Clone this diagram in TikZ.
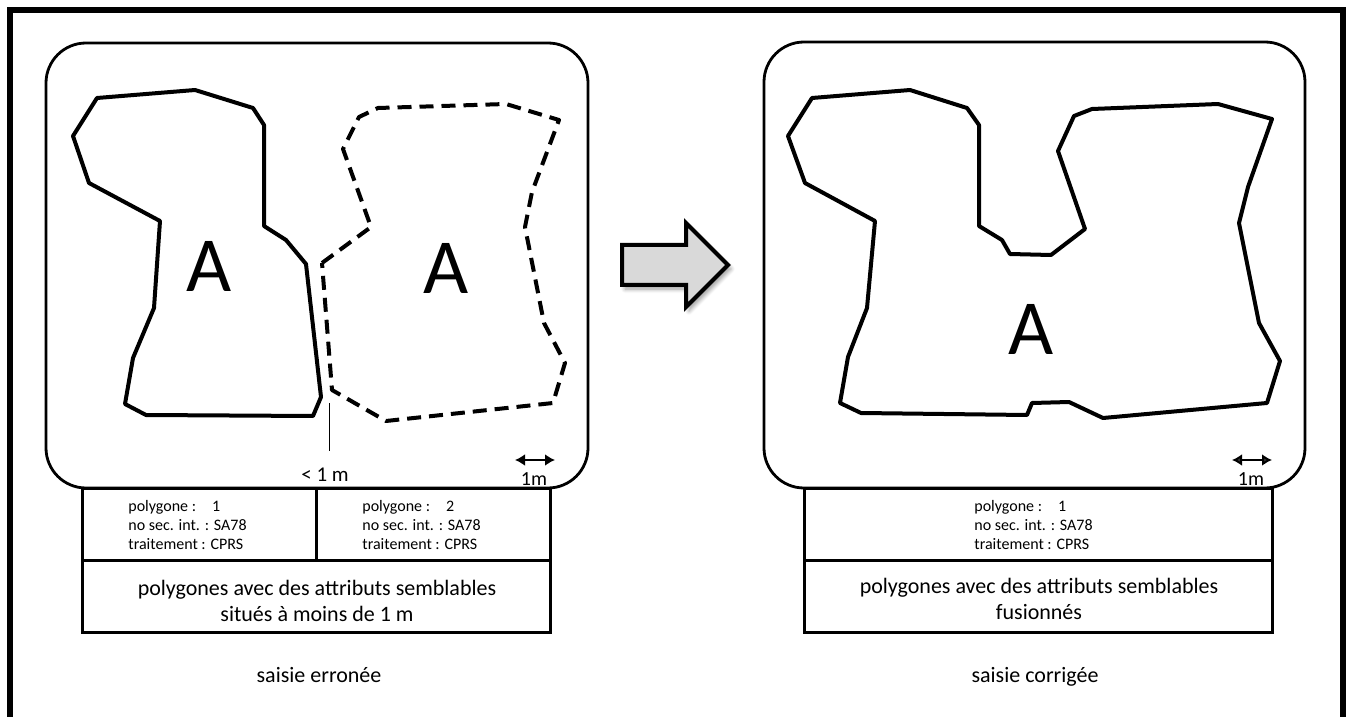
\documentclass[tikz,border=0pt]{standalone}
\usepackage{fontspec}
\setmainfont{Carlito}
\usetikzlibrary{arrows.meta,shadows.blur}

\begin{document}
\begin{tikzpicture}[x=0.5pt, y=-0.5pt,
    cadre/.style={line width=1.4pt, rounded corners=20pt},
    contour/.style={line width=2pt, line join=round},
    tableau/.style={line width=1.5pt},
    echelle/.style={line width=1.2pt, {Latex[length=5pt,width=6pt]}-{Latex[length=5pt,width=6pt]}},
    petit/.style={font=\fontsize{8}{9.5}\selectfont, align=left, anchor=north west, inner sep=0pt},
    moyen/.style={font=\fontsize{11}{13}\selectfont, align=center, inner sep=0pt},
    lettre/.style={font=\fontsize{39}{39}\selectfont, inner sep=0pt}]
  \useasboundingbox (0,0) rectangle (1346,717);
  \clip (0,0) rectangle (1346,717);
  % cadre general
  \draw[line width=3pt] (10,740) -- (10,10) -- (1343,10) -- (1343,740);

  % saisie erronee
  \draw[cadre] (46,43) rectangle (588,488);
  \draw[contour] (97,98) -- (195,90) -- (253,108) -- (264,125) -- (264,226) -- (286,240) -- (306,264)
    -- (321,397) -- (313,416) -- (146,415) -- (125,404) -- (133,358) -- (154,308) -- (160,221)
    -- (89,183) -- (73,136) -- cycle;
  \draw[contour, dash pattern=on 7pt off 4pt] (322,263) -- (371,227) -- (343,149) -- (359,117)
    -- (378,108) -- (506,104) -- (559,120) -- (532,192) -- (525,227) -- (544,323) -- (565,363)
    -- (553,403) -- (386,421) -- (332,390) -- cycle;
  \node[lettre] (lettreA1) at (209,266) {A};
  \node[lettre] (lettreA2) at (446,268) {A};
  \coordinate (ecartHaut) at (329,403);
  \coordinate (ecartBas) at (329,451);
  \draw[line width=0.5pt] (ecartHaut) -- (ecartBas);
  \node[font=\fontsize{10.5}{12}\selectfont, inner sep=0pt] (lblEcart) at (325,475) {< 1 m};
  \coordinate (echG1) at (515,460);
  \coordinate (echD1) at (555,460);
  \draw[echelle] (echG1) -- (echD1);
  \node[font=\fontsize{10}{12}\selectfont, inner sep=0pt] (lblEch1) at (534,479) {1m};

  \draw[tableau] (82,488) rectangle (550,632);
  \draw[tableau] (82,560) -- (550,560);
  \draw[tableau] (316,488) -- (316,560);
  \node[petit] (attr1) at (128,500) {polygone :\hspace{8pt}1\\no sec. int. : SA78\\traitement : CPRS};
  \node[petit] (attr2) at (362,500) {polygone :\hspace{8pt}2\\no sec. int. : SA78\\traitement : CPRS};
  \node[moyen] (desc1) at (317,601) {polygones avec des attributs semblables\\situés à moins de 1 m};
  \node[moyen, anchor=base] (titre1) at (319,682) {saisie erronée};

  % fleche
  \draw[line width=2pt, fill=black!15,
    blur shadow={shadow xshift=1.5pt, shadow yshift=-2pt, shadow blur radius=2pt, shadow blur steps=6}]
    (622,245) -- (686,245) -- (686,223) -- (728,265) -- (686,307) -- (686,285) -- (622,285) -- cycle;

  % saisie corrigee
  \draw[cadre] (764,42) rectangle (1305,488);
  \draw[contour] (812,98) -- (910,90) -- (967,108) -- (979,125) -- (979,226) -- (1002,240) -- (1010,254)
    -- (1051,255) -- (1085,229) -- (1058,151) -- (1074,116) -- (1092,109) -- (1218,104) -- (1272,119)
    -- (1248,187) -- (1239,223) -- (1259,323) -- (1280,361) -- (1267,403) -- (1103,418) -- (1069,402)
    -- (1032,403) -- (1027,415) -- (861,413) -- (840,403) -- (848,357) -- (867,308) -- (875,221)
    -- (805,183) -- (788,136) -- cycle;
  \node[lettre] (lettreA3) at (1031,329) {A};
  \coordinate (echG2) at (1232,460);
  \coordinate (echD2) at (1272,460);
  \draw[echelle] (echG2) -- (echD2);
  \node[font=\fontsize{10}{12}\selectfont, inner sep=0pt] (lblEch2) at (1251,479) {1m};

  \draw[tableau] (804,488) rectangle (1272,632);
  \draw[tableau] (804,560) -- (1272,560);
  \node[petit] (attr3) at (974,500) {polygone :\hspace{8pt}1\\no sec. int. : SA78\\traitement : CPRS};
  \node[moyen] (desc2) at (1039,599) {polygones avec des attributs semblables\\fusionnés};
  \node[moyen, anchor=base] (titre2) at (1035,682) {saisie corrigée};
\end{tikzpicture}
\end{document}
